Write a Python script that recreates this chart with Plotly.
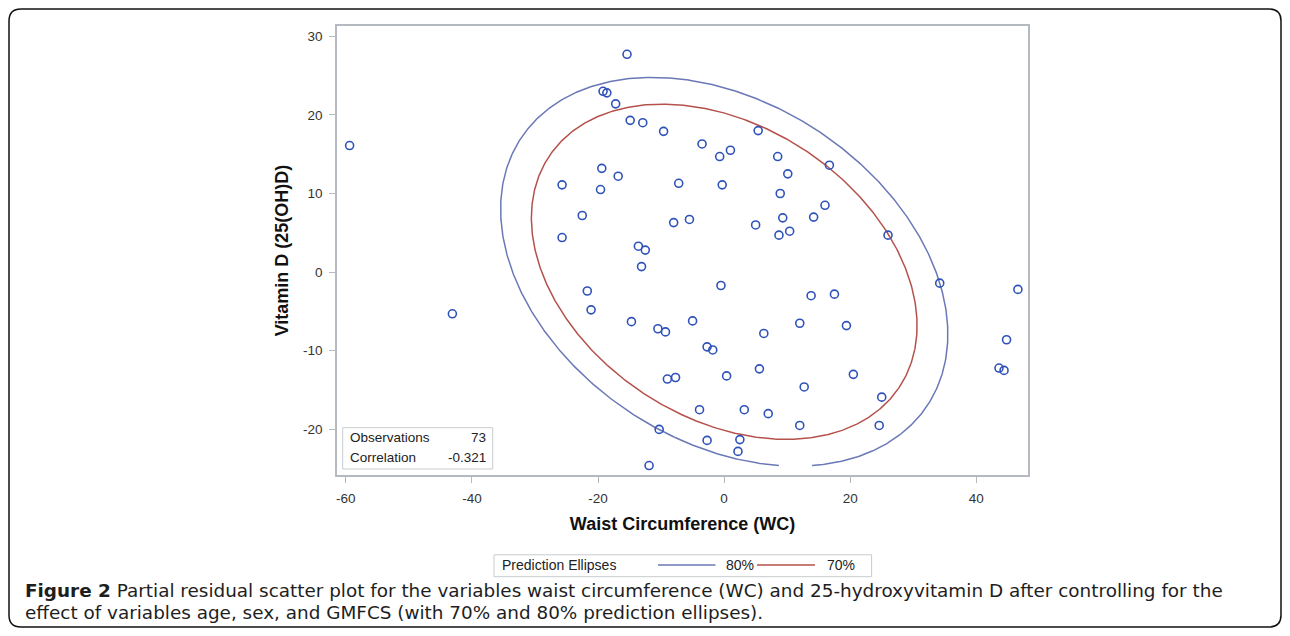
import numpy as np
import plotly.graph_objects as go

# ---- data (partial residuals) ----
wc = [-59.4, -43.1, -25.7, -25.7, -22.5, -21.7, -21.1, -19.6, -19.4, -19.2,
      -18.6, -17.2, -16.8, -15.4, -14.9, -14.7, -13.6, -13.1, -12.9, -12.5,
      -11.9, -10.5, -10.3, -9.6, -9.3, -9.0, -8.0, -7.7, -7.2, -5.5,
      -5.0, -3.9, -3.5, -2.7, -2.7, -1.8, -0.7, -0.5, -0.3, 0.4,
      1.0, 2.2, 2.5, 3.2, 5.0, 5.4, 5.6, 6.3, 7.0, 8.5,
      8.7, 8.9, 9.3, 10.1, 10.4, 12.0, 12.0, 12.7, 13.8, 14.2,
      16.0, 16.7, 17.5, 19.4, 20.5, 24.6, 25.0, 26.0, 34.2, 43.6,
      44.4, 44.8, 46.6]
vitd = [16.1, -5.3, 11.1, 4.4, 7.2, -2.4, -4.8, 10.5, 13.2, 23.0,
        22.8, 21.4, 12.2, 27.7, 19.3, -6.3, 3.3, 0.7, 19.0, 2.8,
        -24.6, -7.2, -20.0, 17.9, -7.6, -13.6, 6.3, -13.4, 11.3, 6.7,
        -6.2, -17.5, 16.3, -9.5, -21.4, -9.9, 14.7, -1.7, 11.1, -13.2,
        15.5, -22.8, -21.3, -17.5, 6.0, 18.0, -12.3, -7.8, -18.0, 14.7,
        4.7, 10.0, 6.9, 12.5, 5.2, -6.5, -19.5, -14.6, -3.0, 7.0,
        8.5, 13.6, -2.8, -6.8, -13.0, -19.5, -15.9, 4.7, -1.4, -12.2,
        -12.5, -8.6, -2.2]
ellipse_levels = [0.80, 0.70]
ellipse_labels = ["80%", "70%"]
x_ticks = [-60, -40, -20, 0, 20, 40]
x_tick_labels = ["-60", "-40", "-20", "0", "20", "40"]
y_ticks = [-20, -10, 0, 10, 20, 30]
y_tick_labels = ["-20", "-10", "0", "10", "20", "30"]
stats_labels = ["Observations", "Correlation"]
stats_values = ["73", "-0.321"]

# ---- styling / layout (screen pixel coordinates; page has an 8px body margin) ----
OFF = 8
SW, SH = 1290, 636
W, H = SW - OFF, SH - 2 * OFF
PL, PR, PT, PB = 337, 1028, 26, 475
X_RANGE = [-61.4, 48.2]
Y_RANGE = [-25.8, 31.3]
MARKER_COLOR = "#2f52b8"
ELL_COLORS = ["#6a78b6", "#b5514b"]
FRAME = "#b4babf"
TXT = "#333333"
FONT = "Liberation Sans, Arial, sans-serif"


def px(x):
    return (x - PL) / (PR - PL)


def py(y):
    return (PB - y) / (PB - PT)


x = np.array(wc)
y = np.array(vitd)
n = len(x)

# SAS-style bivariate-normal prediction ellipse computed from the data
mean = np.array([x.mean(), y.mean()])
S = np.cov(np.vstack([x, y]))
evals, evecs = np.linalg.eigh(S)
t = np.linspace(0, 2 * np.pi, 721)
circle = np.vstack([np.cos(t), np.sin(t)])

fig = go.Figure()
for lev, lab, col in zip(ellipse_levels, ellipse_labels, ELL_COLORS):
    m = n - 2
    f = (m / 2) * ((1 - lev) ** (-2 / m) - 1)
    c2 = 2 * (n + 1) * (n - 1) / (n * (n - 2)) * f
    pts = mean[:, None] + np.sqrt(c2) * evecs @ (np.sqrt(evals)[:, None] * circle)
    ex = pts[0].astype(object)
    ey = pts[1].astype(object)
    mask = (pts[1] < y.min()) | (pts[1] > y.max()) | (pts[0] < x.min()) | (pts[0] > x.max())
    ex[mask] = None
    ey[mask] = None
    fig.add_trace(go.Scatter(x=list(ex), y=list(ey), mode="lines", name=lab,
                             line=dict(color=col, width=1.5), showlegend=False,
                             hoverinfo="skip", connectgaps=False))

fig.add_trace(go.Scatter(x=wc, y=vitd, mode="markers", name="Residuals", showlegend=False,
                         marker=dict(symbol="circle-open", size=8, color=MARKER_COLOR,
                                     line=dict(width=1.6, color=MARKER_COLOR))))

axis_common = dict(showgrid=False, zeroline=False, showline=True, mirror=True,
                   linecolor=FRAME, linewidth=1.5, ticks="outside", ticklen=6,
                   tickcolor=FRAME, tickwidth=1.2,
                   tickfont=dict(family=FONT, size=13.5, color=TXT))

fig.update_layout(
    width=W, height=H,
    margin=dict(l=PL - OFF, r=SW - PR, t=PT - OFF, b=SH - OFF - PB, autoexpand=False),
    paper_bgcolor="white", plot_bgcolor="white",
    xaxis=dict(range=X_RANGE, tickvals=x_ticks, ticktext=x_tick_labels,
               ticklabelstandoff=4, **axis_common,
               title=dict(text="<b>Waist Circumference (WC)</b>", standoff=12,
                          font=dict(family=FONT, size=18, color="#111111"))),
    yaxis=dict(range=Y_RANGE, tickvals=y_ticks, ticktext=y_tick_labels,
               ticklabelstandoff=4, **axis_common,
               title=dict(text="<b>Vitamin D (25(OH)D)</b>", standoff=10,
                          font=dict(family=FONT, size=18, color="#111111"))),
    showlegend=False,
)

shapes = []
annots = []

# statistics inset
shapes.append(dict(type="rect", xref="paper", yref="paper",
                   x0=px(342.7), x1=px(492.7), y0=py(469), y1=py(427.7),
                   line=dict(color="#c8cccf", width=1), fillcolor="white", layer="above"))
for i, (lab, val) in enumerate(zip(stats_labels, stats_values)):
    yy = py(437.7 + i * 19.6)
    annots.append(dict(xref="paper", yref="paper", x=px(347.5), y=yy, text=lab,
                       showarrow=False, xanchor="left", yanchor="middle",
                       font=dict(family=FONT, size=13.5, color="#222222")))
    annots.append(dict(xref="paper", yref="paper", x=px(487.5), y=yy, text=val,
                       showarrow=False, xanchor="right", yanchor="middle",
                       font=dict(family=FONT, size=13.5, color="#222222")))

# legend box (SAS style)
shapes.append(dict(type="rect", xref="paper", yref="paper",
                   x0=px(494), x1=px(871.6), y0=py(576.7), y1=py(554.8),
                   line=dict(color="#c8cccf", width=1), fillcolor="white"))
annots.append(dict(xref="paper", yref="paper", x=px(500), y=py(564.5),
                   text="Prediction Ellipses", showarrow=False, xanchor="left",
                   yanchor="middle", font=dict(family=FONT, size=14, color="#222222")))
leg_lines = [(658, 715.5, 724), (757, 815, 825)]
for (l0, l1, tx), lab, col in zip(leg_lines, ellipse_labels, ELL_COLORS):
    shapes.append(dict(type="line", xref="paper", yref="paper", x0=px(l0), x1=px(l1),
                       y0=py(565), y1=py(565), line=dict(color=col, width=1.5)))
    annots.append(dict(xref="paper", yref="paper", x=px(tx), y=py(564.5), text=lab,
                       showarrow=False, xanchor="left", yanchor="middle",
                       font=dict(family=FONT, size=14, color="#222222")))

# caption
cap_font = dict(family="DejaVu Sans, sans-serif", size=18.4, color="#1e1e1e")
caption = [
    "<b>Figure 2</b> Partial residual scatter plot for the variables waist circumference (WC) "
    "and 25-hydroxyvitamin D after controlling for the",
    "effect of variables age, sex, and GMFCS (with 70% and 80% prediction ellipses).",
]
for i, line in enumerate(caption):
    annots.append(dict(xref="paper", yref="paper", x=px(23), y=py(590 + i * 23),
                       text=line, showarrow=False, xanchor="left", yanchor="middle",
                       font=cap_font))

# outer rounded border
x0, x1, y0, y1, r = 9, 1281, 9, 627, 12
def P(a, b):
    return f"{px(a):.5f},{py(b):.5f}"
path = (f"M{P(x0 + r, y0)} L{P(x1 - r, y0)} Q{P(x1, y0)} {P(x1, y0 + r)} "
        f"L{P(x1, y1 - r)} Q{P(x1, y1)} {P(x1 - r, y1)} L{P(x0 + r, y1)} "
        f"Q{P(x0, y1)} {P(x0, y1 - r)} L{P(x0, y0 + r)} Q{P(x0, y0)} {P(x0 + r, y0)} Z")
shapes.append(dict(type="path", xref="paper", yref="paper", path=path,
                   line=dict(color="#111111", width=1.5)))

fig.update_layout(shapes=shapes, annotations=annots)
fig.write_html("out.html")
